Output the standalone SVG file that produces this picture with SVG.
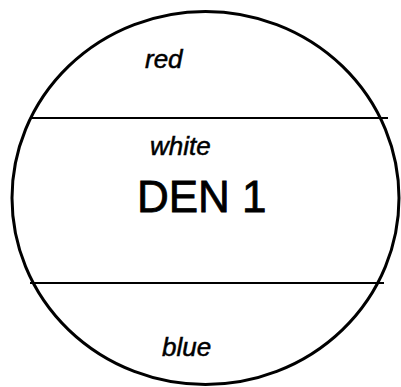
<svg xmlns="http://www.w3.org/2000/svg" width="401" height="387" viewBox="0 0 401 387">
<style>
.outline{fill:#fff;stroke:#000;stroke-width:3}
.band{stroke:#000;stroke-width:2.2;fill:none}
.lbl{font-family:"Liberation Sans",Arial,sans-serif;font-style:italic;font-size:26px;fill:#000;stroke:#000;stroke-width:0.5}
.title{font-family:"Liberation Sans",Arial,sans-serif;font-size:44px;fill:#000;stroke:#000;stroke-width:0.8}
</style>
<rect width="401" height="387" fill="#fff"/>
<g id="den1">
<ellipse class="outline" cx="205.5" cy="198" rx="193.5" ry="186.5"/>
<g id="connectors">
<line class="band" x1="30" y1="118" x2="388" y2="118"/>
<line class="band" x1="30" y1="283" x2="384" y2="283"/>
</g>
<text class="lbl" x="145" y="68">red</text>
<text class="lbl" x="150" y="155">white</text>
<text class="title" x="137" y="212">DEN 1</text>
<text class="lbl" x="162" y="356">blue</text>
</g>
</svg>
